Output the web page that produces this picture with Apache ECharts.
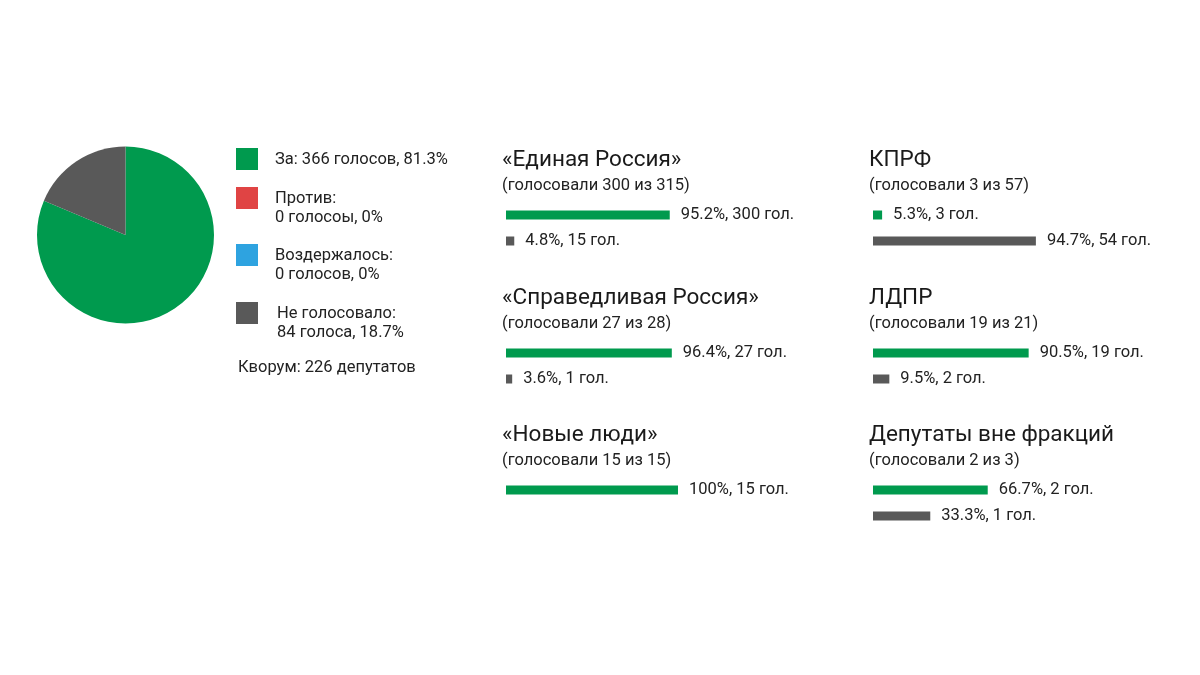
<!DOCTYPE html>
<html>
<head>
<meta charset="utf-8">
<script src="https://cdn.jsdelivr.net/npm/echarts@6/dist/echarts.min.js"></script>
<style>
  html, body { margin: 0; padding: 0; background: #fff; }
  #mainChart { width: 1200px; height: 675px; }
</style>
</head>
<body>
<div id="mainChart"></div>
<script>
// общее голосование
var voteNames = ['За', 'Против', 'Воздержалось', 'Не голосовало'];
var voteCounts = [366, 0, 0, 84];
var voteLegend = [
  'За: 366 голосов, 81.3%',
  'Против:\n0 голосоы, 0%',
  'Воздержалось:\n0 голосов, 0%',
  'Не голосовало:\n84 голоса, 18.7%'
];
var quorumText = 'Кворум: 226 депутатов';

// фракции
var parties = ['«Единая Россия»', 'КПРФ', '«Справедливая Россия»', 'ЛДПР', '«Новые люди»', 'Депутаты вне фракций'];
var partyVoted = [300, 3, 27, 19, 15, 2];
var partyTotal = [315, 57, 28, 21, 15, 3];
var forPct = [95.2, 5.3, 96.4, 90.5, 100, 66.7];
var forVotes = [300, 3, 27, 19, 15, 2];
var absentPct = [4.8, 94.7, 3.6, 9.5, null, 33.3];
var absentVotes = [15, 54, 1, 2, null, 1];

var GREEN = '#009a4e';
var GRAY = '#595959';
var colors = [GREEN, '#e04444', '#2ea3e0', GRAY];
var FONT = 'Roboto';

function chartInit() {
  var myChart = echarts.init(document.getElementById('mainChart'));

  var legendTops = [148, 187, 244, 302];
  var legendTextX = [275, 275, 275, 277];
  var graphic = [];
  voteNames.forEach(function (n, i) {
    graphic.push({
      type: 'rect', left: 236, top: legendTops[i],
      shape: { width: 22, height: 22 },
      style: { fill: colors[i] }
    });
    graphic.push({
      type: 'text', left: legendTextX[i], top: legendTops[i] + 2,
      style: {
        text: voteLegend[i], fill: '#222', font: '16.5px ' + FONT,
        lineHeight: 19
      }
    });
  });
  graphic.push({
    type: 'text', left: 238, top: 359,
    style: { text: quorumText, fill: '#222', font: '16.5px ' + FONT }
  });

  var titles = [], grids = [], xAxes = [], yAxes = [], series = [];
  var colX = [502, 869];
  var rowY = [147, 285, 422];

  series.push({
    type: 'pie',
    center: [125.5, 235],
    radius: 88.5,
    startAngle: 90,
    clockwise: true,
    label: { show: false },
    labelLine: { show: false },
    silent: true,
    itemStyle: { borderWidth: 0 },
    data: voteNames.map(function (n, i) {
      return { name: n, value: voteCounts[i], itemStyle: { color: colors[i] } };
    })
  });

  parties.forEach(function (p, i) {
    var col = i % 2, row = Math.floor(i / 2);
    var x = colX[col], y = rowY[row];
    titles.push({
      text: p,
      subtext: '(голосовали ' + partyVoted[i] + ' из ' + partyTotal[i] + ')',
      left: x, top: y, padding: 0, itemGap: 2,
      textStyle: { fontFamily: FONT, fontSize: 22.5, fontWeight: 'normal', color: '#1a1a1a', lineHeight: 27 },
      subtextStyle: { fontFamily: FONT, fontSize: 16.5, color: '#222', lineHeight: 20 }
    });
    grids.push({ left: x + 4, top: y + 55, width: 172, height: 52 });
    xAxes.push({ type: 'value', gridIndex: i, min: 0, max: 100, show: false });
    yAxes.push({ type: 'category', gridIndex: i, inverse: true, show: false,
      data: ['за', 'не голосовало'] });
    var pcts = [forPct[i], absentPct[i]];
    var votes = [forVotes[i], absentVotes[i]];
    series.push({
      type: 'bar',
      xAxisIndex: i, yAxisIndex: i,
      barWidth: 9,
      silent: true,
      data: pcts.map(function (v, k) {
        return { value: v == null ? '-' : v, itemStyle: { color: k === 0 ? GREEN : GRAY } };
      }),
      label: {
        show: true, position: 'right', distance: 11,
        fontFamily: FONT, fontSize: 16.5, color: '#222',
        formatter: function (prm) {
          var k = prm.dataIndex;
          if (pcts[k] == null) return '';
          return pcts[k] + '%, ' + votes[k] + ' гол.';
        }
      }
    });
  });

  var option = {
    backgroundColor: '#fff',
    animation: false,
    title: titles,
    grid: grids,
    xAxis: xAxes,
    yAxis: yAxes,
    series: series,
    graphic: graphic
  };
  myChart.setOption(option);
}

chartInit();
</script>
</body>
</html>
